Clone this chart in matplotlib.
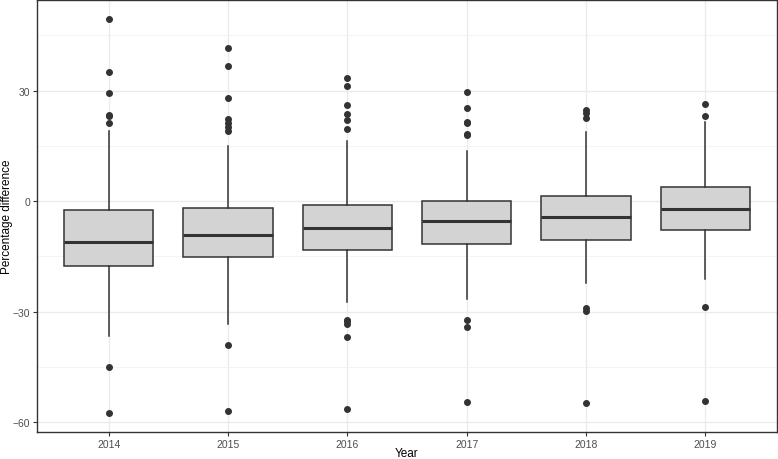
import matplotlib
matplotlib.use("Agg")
import matplotlib.pyplot as plt
import numpy as np

plt.rcParams["font.family"] = ["Liberation Sans", "DejaVu Sans"]

years = ["2014", "2015", "2016", "2017", "2018", "2019"]
q1 = [-17.6, -15.1, -13.3, -11.6, -10.4, -7.9]
med = [-11.0, -9.2, -7.3, -5.3, -4.2, -2.0]
q3 = [-2.5, -1.9, -0.9, 0.1, 1.4, 3.8]
whislo = [-36.6, -33.4, -27.4, -26.4, -22.1, -21.1]
whishi = [19.0, 14.9, 16.4, 13.7, 18.7, 21.5]
outliers = [
    [49.4, 35.1, 29.4, 23.5, 23.0, 21.1, -44.9, -57.4],
    [41.5, 36.7, 28.1, 22.4, 21.1, 20.0, 18.9, -39.1, -56.8],
    [33.5, 31.2, 26.0, 23.7, 22.0, 19.6, -32.1, -32.6, -33.2, -36.7, -56.4],
    [29.7, 25.2, 21.4, 21.2, 18.1, 17.9, -32.2, -34.0, -54.5],
    [24.6, 23.9, 22.5, -29.0, -29.9, -54.7],
    [26.4, 23.1, -28.7, -54.2],
]
yticks = [-60, -30, 0, 30]

W, H = 778, 460
fig = plt.figure(figsize=(W / 100, H / 100), dpi=100)
ax = fig.add_axes([37 / W, (H - 433) / H, 740 / W, 432.5 / H])

stats = []
for i, y in enumerate(years):
    stats.append(dict(label=y, q1=q1[i], med=med[i], q3=q3[i],
                      whislo=whislo[i], whishi=whishi[i], fliers=outliers[i]))

pos = np.arange(1, len(years) + 1)
ax.bxp(stats, positions=pos, widths=0.75, patch_artist=True, showcaps=False,
       boxprops=dict(facecolor="#D3D3D3", edgecolor="#333333", linewidth=1.1),
       medianprops=dict(color="#333333", linewidth=2.2),
       whiskerprops=dict(color="#333333", linewidth=1.1),
       flierprops=dict(marker="o", markerfacecolor="#333333", markeredgecolor="#333333",
                       markersize=4.0, linestyle="none"),
       zorder=3)

ax.set_xlim(0.4, 6.6)
ax.set_ylim(-62.6, 54.7)
ax.set_xticks(pos)
ax.set_xticklabels(years)
ax.set_yticks(yticks)
ax.set_yticklabels(["\u221260", "\u221230", "0", "30"])
ax.set_yticks([-45, -15, 15, 45], minor=True)

ax.grid(True, which="major", color="#EBEBEB", linewidth=1.0, zorder=0)
ax.grid(True, which="minor", axis="y", color="#F2F2F2", linewidth=0.6, zorder=0)
ax.set_axisbelow(True)

for s in ax.spines.values():
    s.set_color("#333333")
    s.set_linewidth(1.0)

ax.tick_params(axis="both", which="major", colors="#333333", labelcolor="#4D4D4D",
               labelsize=7.5, length=3, width=0.8, pad=2)
ax.tick_params(axis="both", which="minor", length=0)

ax.set_xlabel("Year", fontsize=8.5, va="center")
ax.set_ylabel("Percentage difference", fontsize=8.5, va="center")
ax.xaxis.set_label_coords(0.5, (433 - 454) / 432.5)
ax.yaxis.set_label_coords((7 - 37) / 740, 0.5)

fig.savefig("out.png", dpi=100)
